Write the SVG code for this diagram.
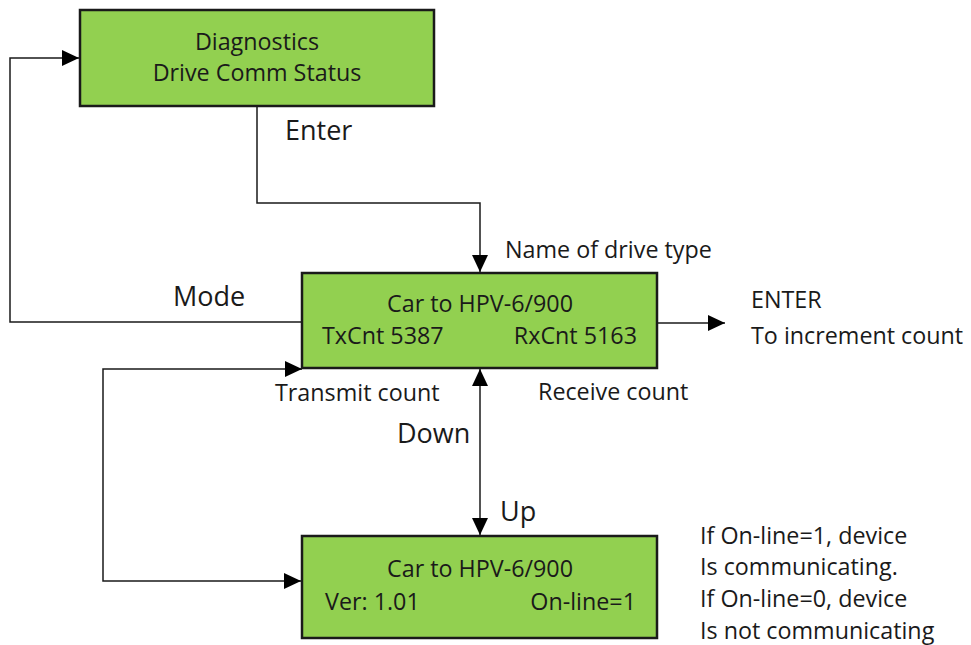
<svg xmlns="http://www.w3.org/2000/svg" width="971" height="645" viewBox="0 0 971 645">
<style>
.box{fill:#92D050;stroke:#1a1a1a;stroke-width:2.5}
.t{font-family:"Open Sans","Liberation Sans",Arial,sans-serif;font-size:23.3px;fill:#1a1a1a}
.big{font-size:27px}
.c{text-anchor:middle}
.e{text-anchor:end}
.ln{fill:none;stroke:#1a1a1a;stroke-width:1.5}
</style>
<defs>
<marker id="ah" markerUnits="userSpaceOnUse" markerWidth="18" markerHeight="18" viewBox="0 0 18 18" refX="17" refY="9" orient="auto-start-reverse">
<path d="M0,1 L17,9 L0,17 Z" fill="#000"/>
</marker>
</defs>
<rect width="971" height="645" fill="#fff"/>
<g id="connectors">
<path class="ln" d="M257,107 V203 H480 V272" marker-end="url(#ah)"/>
<path class="ln" d="M302,322 H10 V58 H79" marker-end="url(#ah)"/>
<path class="ln" d="M657,323 H725" marker-end="url(#ah)"/>
<path class="ln" d="M302,369 H103 V581 H301" marker-start="url(#ah)" marker-end="url(#ah)"/>
<path class="ln" d="M480,369 V535" marker-start="url(#ah)" marker-end="url(#ah)"/>
</g>
<g id="labels">
<text class="t big" x="285" y="140">Enter</text>
<text class="t" x="505" y="258">Name of drive type</text>
<text class="t big" x="173" y="306">Mode</text>
<text class="t" x="751" y="308">ENTER</text>
<text class="t" x="751" y="344">To increment count</text>
<text class="t" x="275" y="401">Transmit count</text>
<text class="t" x="538" y="400">Receive count</text>
<text class="t big" x="397" y="443">Down</text>
<text class="t big" x="500" y="521">Up</text>
<text class="t" x="700" y="544">If On-line=1, device</text>
<text class="t" x="700" y="575">Is communicating.</text>
<text class="t" x="700" y="607">If On-line=0, device</text>
<text class="t" x="700" y="639">Is not communicating</text>
</g>
<g id="node-diagnostics">
<rect class="box" x="80" y="10" width="354" height="96"/>
<text class="t c" x="257" y="50">Diagnostics</text>
<text class="t c" x="257" y="81">Drive Comm Status</text>
</g>
<g id="node-comm">
<rect class="box" x="302" y="273" width="355" height="95"/>
<text class="t c" x="480" y="312">Car to HPV-6/900</text>
<text class="t" x="322" y="344">TxCnt 5387</text>
<text class="t e" x="637" y="344">RxCnt 5163</text>
</g>
<g id="node-version">
<rect class="box" x="302" y="536" width="355" height="102"/>
<text class="t c" x="480" y="577">Car to HPV-6/900</text>
<text class="t" x="325" y="610">Ver: 1.01</text>
<text class="t e" x="636" y="610">On-line=1</text>
</g>
</svg>
